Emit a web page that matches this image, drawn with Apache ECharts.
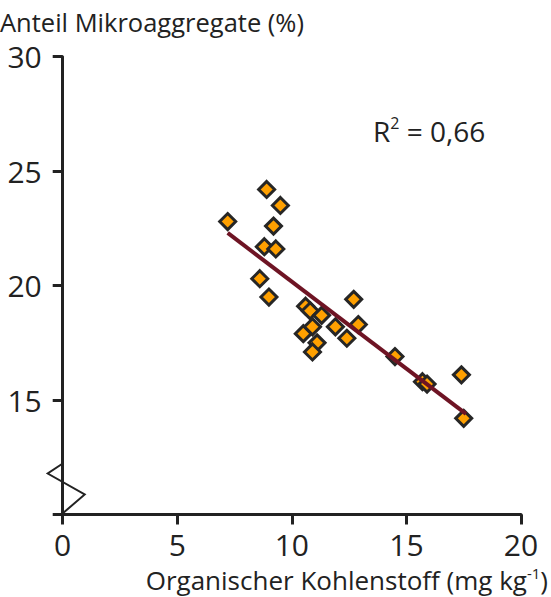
<!DOCTYPE html>
<html>
<head>
<meta charset="utf-8">
<script src="https://cdn.jsdelivr.net/npm/echarts@6/dist/echarts.min.js"></script>
<style>
html,body{margin:0;padding:0;background:#fff;}
#chart{width:551px;height:597px;}
</style>
</head>
<body>
<div id="chart"></div>
<script>
// Organischer Kohlenstoff (mg kg-1)
var carbonValues = [7.2, 8.9, 9.5, 9.2, 8.8, 9.3, 8.6, 9.0, 10.6, 10.8, 11.3, 10.5, 10.9, 11.1, 10.9, 11.9, 12.7, 12.9, 12.4, 14.5, 15.7, 15.9, 17.4, 17.5];
// Anteil Mikroaggregate (%)
var microValues = [22.8, 24.2, 23.5, 22.6, 21.7, 21.6, 20.3, 19.5, 19.1, 18.9, 18.7, 17.9, 18.2, 17.5, 17.1, 18.2, 19.4, 18.3, 17.7, 16.9, 15.8, 15.7, 16.1, 14.2];
// regression line end points
var trendX = [7.2, 17.6];
var trendY = [22.3, 14.4];
var xTicks = [0, 5, 10, 15, 20];
var yTicks = [10, 15, 20, 25, 30];
var rSquared = '0,66';

var FONT = '"Open Sans", sans-serif';
var INK = '#222222';

var scatterData = carbonValues.map(function (v, i) { return [v, microValues[i]]; });
var trendData = trendX.map(function (v, i) { return [v, trendY[i]]; });

var chart = echarts.init(document.getElementById('chart'), null, { renderer: 'svg' });

var option = {
  animation: false,
  backgroundColor: '#ffffff',
  title: [{
    text: 'Anteil Mikroaggregate (%)',
    left: -5,
    top: 4,
    textStyle: { fontFamily: FONT, fontSize: 25.5, fontWeight: 'normal', color: INK }
  }, {
    text: 'R{sup|2} = ' + rSquared,
    left: 368,
    top: 110,
    textStyle: {
      fontFamily: FONT, fontSize: 28, fontWeight: 'normal', color: INK,
      rich: { sup: { fontFamily: FONT, fontSize: 16, color: INK, padding: [0, 0, 15, 0] } }
    }
  }],
  grid: { left: 62.7, right: 29.3, top: 56.7, bottom: 82.5 },
  xAxis: {
    type: 'value',
    min: xTicks[0], max: xTicks[xTicks.length - 1], interval: 5,
    name: 'Organischer Kohlenstoff (mg kg{sup|-1})',
    nameLocation: 'end',
    nameGap: 27,
    nameTextStyle: {
      fontFamily: FONT, fontSize: 26, color: INK, align: 'right', verticalAlign: 'top',
      padding: [51, 0, 0, 0],
      rich: { sup: { fontFamily: FONT, fontSize: 15, color: INK, padding: [0, 0, 13, 0] } }
    },
    splitLine: { show: false },
    axisLine: { show: true, onZero: false, lineStyle: { color: INK, width: 3 } },
    axisTick: { show: true, inside: false, length: 10, lineStyle: { color: INK, width: 3 } },
    axisLabel: { fontFamily: FONT, fontSize: 30, color: INK, margin: 15 }
  },
  yAxis: {
    type: 'value',
    min: yTicks[0], max: yTicks[yTicks.length - 1], interval: 5,
    splitLine: { show: false },
    axisLine: { show: true, onZero: false, lineStyle: { color: INK, width: 3 } },
    axisTick: { show: true, inside: false, length: 10, lineStyle: { color: INK, width: 3 } },
    axisLabel: {
      fontFamily: FONT, fontSize: 30, color: INK, margin: 21,
      formatter: function (v) { return v === yTicks[0] ? '' : String(v); }
    }
  },
  series: [{
    type: 'scatter',
    data: scatterData,
    symbol: 'diamond',
    symbolSize: 16,
    itemStyle: { color: '#FFA000', borderColor: '#262626', borderWidth: 3, opacity: 1 },
    z: 2
  }, {
    type: 'line',
    data: trendData,
    symbol: 'none',
    lineStyle: { color: '#6e1424', width: 4 },
    z: 5
  }]
};
chart.setOption(option);

// axis break marker (zigzag) on the y axis, placed relative to the origin
var o = chart.convertToPixel({ gridIndex: 0 }, [xTicks[0], yTicks[0]]);
chart.setOption({
  graphic: [{
    type: 'polyline',
    z: 10,
    shape: { points: [[o[0], o[1] - 51], [o[0] - 15, o[1] - 41], [o[0] + 22, o[1] - 20], [o[0] + 1, o[1] - 2]] },
    style: { stroke: INK, lineWidth: 2, fill: 'none' }
  }]
});
</script>
</body>
</html>
